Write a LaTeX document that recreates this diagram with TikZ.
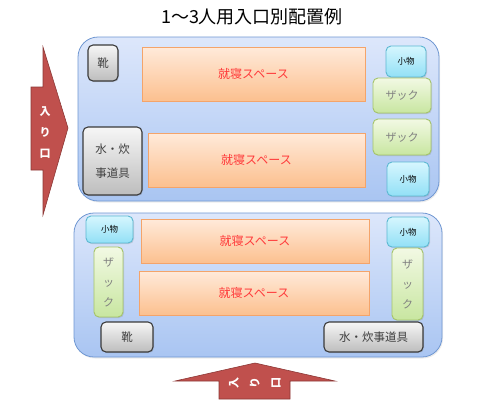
\documentclass[tikz,border=0pt]{standalone}
\usepackage{fontspec}
\usepackage{xcolor}
\usepackage{tikz}
\usetikzlibrary{shadows}
\newfontfamily\jp{Noto Sans CJK JP}

\definecolor{roomline}{HTML}{6F97D2}
\definecolor{roomtop}{HTML}{DDE7FB}
\definecolor{roombot}{HTML}{A9C5F2}
\definecolor{bedline}{HTML}{F4A46A}
\definecolor{bedtop}{HTML}{FFEADA}
\definecolor{bedbot}{HTML}{FCC08F}
\definecolor{bedtext}{HTML}{FF3B3B}
\definecolor{smallline}{HTML}{5CB8D2}
\definecolor{smalltop}{HTML}{D6F6FE}
\definecolor{smallbot}{HTML}{92E0F6}
\definecolor{packline}{HTML}{A5C46A}
\definecolor{packtop}{HTML}{F2F9E4}
\definecolor{packbot}{HTML}{C8E6A0}
\definecolor{gearline}{HTML}{3A3A3A}
\definecolor{geartop}{HTML}{F6F6F6}
\definecolor{gearbot}{HTML}{BDBDBD}
\definecolor{doorfill}{HTML}{C0504D}
\definecolor{doorline}{HTML}{8C3836}

\begin{document}
\begin{tikzpicture}[
            x=1pt, y=-1pt,
            room/.style={rectangle, draw=roomline, line width=0.8pt,
                    rounded corners=20pt, top color=roomtop, bottom color=roombot,
                    drop shadow={opacity=0.15, shadow xshift=1pt, shadow yshift=-1.5pt}},
            bed/.style={rectangle, draw=bedline, line width=0.8pt, inner sep=0pt,
                    top color=bedtop, bottom color=bedbot, text=bedtext,
                    font=\jp\fontsize{12}{14}\selectfont,
                    drop shadow={opacity=0.25, shadow xshift=1pt, shadow yshift=-1pt}},
            gear/.style={rectangle, draw=gearline, line width=1.1pt, inner sep=0pt,
                    rounded corners=5pt, top color=geartop, bottom color=gearbot,
                    text=black!75, font=\jp\fontsize{11.5}{24}\selectfont, align=center,
                    drop shadow={opacity=0.25, shadow xshift=1pt, shadow yshift=-1pt}},
            small/.style={rectangle, draw=smallline, line width=0.9pt, inner sep=0pt,
                    rounded corners=5pt, top color=smalltop, bottom color=smallbot,
                    text=black, font=\jp\fontsize{8.5}{10}\selectfont,
                    drop shadow={opacity=0.25, shadow xshift=1pt, shadow yshift=-1pt}},
            pack/.style={rectangle, draw=packline, line width=0.9pt, inner sep=0pt,
                    rounded corners=5pt, top color=packtop, bottom color=packbot,
                    text=black!50, font=\jp\fontsize{11}{20}\selectfont, align=center,
                    drop shadow={opacity=0.25, shadow xshift=1pt, shadow yshift=-1pt}},
            door/.style={fill=doorfill, draw=doorline, line width=0.6pt},
            doortext/.style={text=white, font=\jp\bfseries\fontsize{11}{21}\selectfont,
                    align=center, inner sep=0pt}
            ]
            \useasboundingbox (0,0) rectangle (500,400);

            %% ---- Title ----
            \node[font=\jp\fontsize{18}{20}\selectfont] (title) at (252,17) {1〜3人用入口別配置例};

            %% ---- Upper plan: door on the left ----
            \node[room, minimum width=361pt, minimum height=164pt] (roomA) at (258.5,119) {};
            \node[gear, minimum width=30pt, minimum height=36pt] (shoeA) at (103,63) {靴};
            \node[bed, minimum width=223pt, minimum height=54pt] (bedA1) at (253.5,74) {就寝スペース};
            \node[gear, minimum width=59pt, minimum height=68pt] (cookA) at (112.5,161) {水・炊\\事道具};
            \node[bed, minimum width=217pt, minimum height=54pt] (bedA2) at (256.5,160) {就寝スペース};
            \node[small, minimum width=40pt, minimum height=31pt] (smallA1) at (406,61.5) {小物};
            \node[pack, minimum width=58pt, minimum height=35pt] (packA1) at (402,95.5) {ザック};
            \node[pack, minimum width=58pt, minimum height=36pt] (packA2) at (402,137) {ザック};
            \node[small, minimum width=42pt, minimum height=34pt] (smallA2) at (408,179) {小物};

            % door arrow pointing right
            \draw[door] (31,87) -- (43,87) -- (43,47) -- (68,128) -- (43,215)
                -- (43,170) -- (31,170) -- cycle;
            \node[doortext] (doorA) at (45,133) {入\\り\\口};

            %% ---- Lower plan: door at the bottom ----
            \node[room, minimum width=368pt, minimum height=144pt] (roomB) at (258,285) {};
            \node[small, minimum width=47pt, minimum height=27pt] (smallB1) at (109.5,229.5) {小物};
            \node[pack, minimum width=29pt, minimum height=70pt] (packB1) at (108.5,282) {ザ\\ッ\\ク};
            \node[gear, minimum width=52pt, minimum height=30pt] (shoeB) at (127,337) {靴};
            \node[bed, minimum width=228pt, minimum height=44pt] (bedB1) at (255,241) {就寝スペース};
            \node[bed, minimum width=230pt, minimum height=44pt] (bedB2) at (254,293) {就寝スペース};
            \node[small, minimum width=42pt, minimum height=30pt] (smallB2) at (408,232) {小物};
            \node[pack, minimum width=31pt, minimum height=72pt] (packB2) at (407.5,284) {ザ\\ッ\\ク};
            \node[gear, minimum width=99pt, minimum height=30pt] (cookB) at (373.5,337) {水・炊事道具};

            % door arrow pointing up
            \draw[door] (219,399) -- (219,381) -- (175,381) -- (255,363) -- (335,381)
                -- (290,381) -- (290,399) -- cycle;
            \node[doortext, rotate=90] (doorB) at (255,383) {入\\り\\口};
        \end{tikzpicture}
\end{document}
